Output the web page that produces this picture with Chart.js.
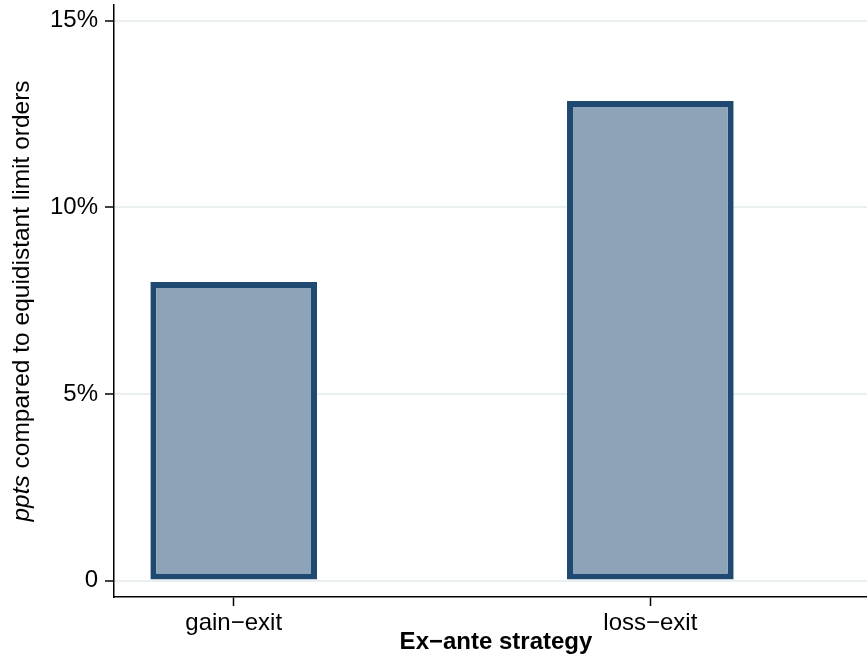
<!DOCTYPE html>
<html>
<head>
<meta charset="utf-8">
<script src="https://cdn.jsdelivr.net/npm/chart.js@4/dist/chart.umd.min.js"></script>
<style>
html,body{margin:0;padding:0;background:#fff;}
#wrap{width:867px;height:664px;}
</style>
</head>
<body>
<div id="wrap"><canvas id="c" width="867" height="664"></canvas></div>
<script>
const categories = ["gain\u2212exit", "loss\u2212exit"];
const categoryPositions = [1, 2];
const values = [8.0, 12.85];
const yTickValues = [0, 5, 10, 15];
const yTickLabels = ["0", "5%", "10%", "15%"];
const xTitle = "Ex\u2212ante strategy";
const yTitleItalic = "ppts";
const yTitleRest = " compared to equidistant limit orders";

const FONT = "'Liberation Sans', Arial, Helvetica, sans-serif";

const titlePlugin = {
  id: 'titles',
  afterDraw(chart) {
    const ctx = chart.ctx;
    const area = chart.chartArea;
    ctx.save();
    ctx.fillStyle = '#000';
    // x title
    ctx.font = "bold 24px " + FONT;
    ctx.textAlign = 'center';
    ctx.textBaseline = 'alphabetic';
    ctx.fillText(xTitle, 496, 649);
    // y title (mixed italic)
    const cy = (area.top + area.bottom) / 2;
    ctx.translate(29, cy);
    ctx.rotate(-Math.PI / 2);
    ctx.textAlign = 'left';
    ctx.font = "italic 24.5px " + FONT;
    const w1 = ctx.measureText(yTitleItalic).width;
    ctx.font = "24.5px " + FONT;
    const w2 = ctx.measureText(yTitleRest).width;
    let x0 = -(w1 + w2) / 2;
    ctx.font = "italic 24.5px " + FONT;
    ctx.fillText(yTitleItalic, x0, 0);
    ctx.font = "24.5px " + FONT;
    ctx.fillText(yTitleRest, x0 + w1, 0);
    ctx.restore();
  }
};

new Chart(document.getElementById('c'), {
  type: 'bar',
  data: {
    datasets: [{
      data: categoryPositions.map((x, i) => ({ x: x, y: values[i] })),
      backgroundColor: '#8DA3B8',
      borderColor: '#1F4970',
      borderWidth: 6,
      borderSkipped: false,
      barPercentage: 0.4,
      categoryPercentage: 1.0
    }]
  },
  options: {
    responsive: false,
    devicePixelRatio: 1,
    animation: false,
    layout: { padding: { top: 5, left: 0, right: 0, bottom: 0 } },
    plugins: { legend: { display: false }, tooltip: { enabled: false } },
    scales: {
      x: {
        type: 'linear',
        offset: false,
        min: 0.7127,
        max: 2.520,
        afterFit(s) { s.height = 67; s.paddingLeft = 0; s.paddingRight = 0; },
        afterBuildTicks(s) { s.ticks = categoryPositions.map(v => ({ value: v })); },
        ticks: {
          callback: (v) => categories[categoryPositions.indexOf(v)],
          font: { family: FONT, size: 24 },
          color: '#000',
          padding: 3,
          maxRotation: 0,
          autoSkip: false
        },
        grid: {
          offset: false,
          drawOnChartArea: false,
          drawTicks: true,
          tickLength: 9,
          tickColor: '#000',
          tickWidth: 1.5
        },
        border: { display: true, color: '#000', width: 1.5 }
      },
      y: {
        min: -0.442,
        max: 15.42,
        afterFit(s) { s.width = 114; s.paddingTop = 0; s.paddingBottom = 0; },
        afterBuildTicks(s) { s.ticks = yTickValues.map(v => ({ value: v })); },
        ticks: {
          callback: (v) => yTickLabels[yTickValues.indexOf(v)],
          font: { family: FONT, size: 24 },
          color: '#000',
          padding: 7
        },
        grid: {
          color: '#EAF0F2',
          lineWidth: 2,
          drawTicks: true,
          tickLength: 9,
          tickColor: '#000',
          tickWidth: 1.5
        },
        border: { display: true, color: '#000', width: 1.5 }
      }
    }
  },
  plugins: [titlePlugin]
});
</script>
</body>
</html>
